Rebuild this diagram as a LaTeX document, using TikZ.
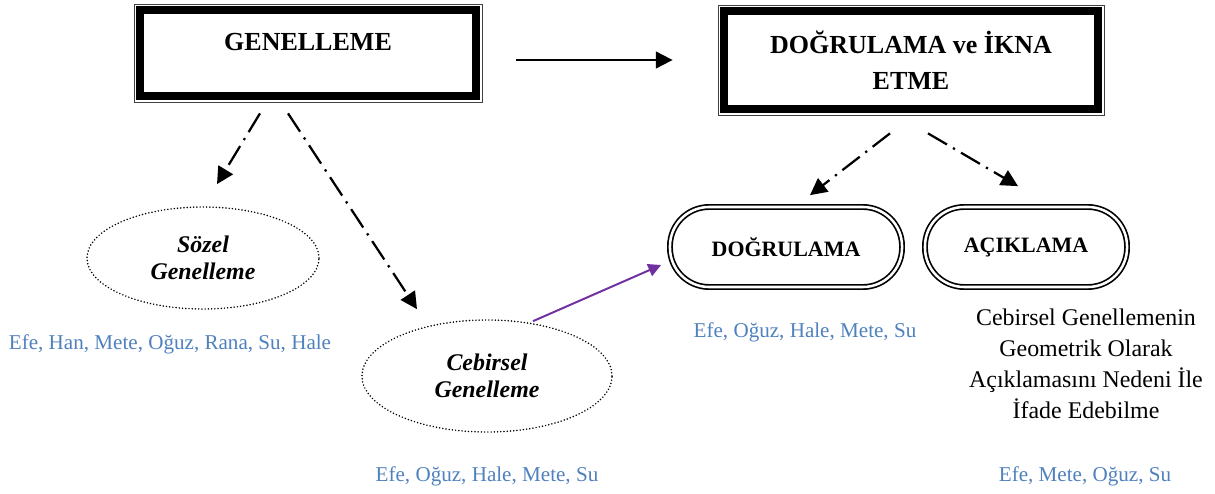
\documentclass[tikz,border=0pt]{standalone}
\usepackage{fontspec}
\setmainfont{Liberation Serif}
\usetikzlibrary{arrows.meta,shapes.geometric}
\definecolor{namesblue}{RGB}{79,129,189}
\definecolor{linkpurple}{RGB}{112,48,160}
\tikzset{
	framebox/.style={draw=black!75,line width=0.5pt,inner sep=0pt,align=center,
		font=\fontsize{18.5}{25.6}\selectfont\bfseries,
		path picture={\draw[draw=black,line width=0.2cm]
			([shift={(0.16cm,-0.16cm)}]path picture bounding box.north west) rectangle
			([shift={(-0.16cm,0.16cm)}]path picture bounding box.south east);}},
	pill/.style={draw,double,double distance=1.8pt,line width=1.2pt,rounded corners=0.98cm,
		inner sep=0pt,minimum height=2cm,font=\fontsize{15.6}{19}\selectfont\bfseries},
	oval/.style={ellipse,draw,line width=1.2pt,dash pattern=on 0pt off 2.3pt,line cap=round,
		inner sep=0pt,align=center,font=\fontsize{17}{19.2}\selectfont\bfseries\itshape},
	names/.style={text=namesblue,font=\fontsize{15}{18}\selectfont},
	plain arrow/.style={line width=1.4pt,-{Triangle[length=0.42cm,width=0.42cm]}},
	dashdot arrow/.style={line width=1.6pt,dash pattern=on 15.6pt off 5pt on 1.6pt off 5pt,
		-{Triangle[length=0.42cm,width=0.42cm]}},
	purple arrow/.style={draw=linkpurple,line width=1.4pt,
		-{Triangle[length=0.32cm,width=0.32cm]}}
}
\begin{document}
\begin{tikzpicture}[x=0.025cm,y=-0.025cm]
		\useasboundingbox (0,0) rectangle (1215,493);
		%Main boxes
			\node[framebox,minimum width=8.7cm,minimum height=2.45cm,text height=0.45cm,text depth=0.55cm] (gen) at (308,53) {GENELLEME};
			\node[framebox,minimum width=9.65cm,minimum height=2.75cm] (dik) at (911,60) {DOĞRULAMA ve İKNA\\ETME};
		%Generalisation kinds
			\node[oval,minimum width=5.8cm,minimum height=2.55cm] (soz) at (203,258) {Sözel\\Genelleme};
			\node[oval,minimum width=6.25cm,minimum height=2.8cm] (ceb) at (487,376) {Cebirsel\\Genelleme};
		%Verification and explanation
			\node[pill,minimum width=5.8cm] (dog) at (786,247) {DOĞRULAMA};
			\node[pill,minimum width=5.05cm] (acik) at (1026,247) {AÇIKLAMA};
			\node[align=center,font=\fontsize{17}{22}\selectfont] (acikdesc) at (1086,364)
				{Cebirsel Genellemenin\\Geometrik Olarak\\Açıklamasını Nedeni İle\\İfade Edebilme};
		%Students
			\node[names] (soznames) at (170,344) {Efe, Han, Mete, Oğuz, Rana, Su, Hale};
			\node[names] (cebnames) at (487,476) {Efe, Oğuz, Hale, Mete, Su};
			\node[names] (dognames) at (805,332) {Efe, Oğuz, Hale, Mete, Su};
			\node[names] (aciknames) at (1085,476) {Efe, Mete, Oğuz, Su};
		%Arrows
			\draw[plain arrow] ([shift={(34,7)}]gen.east) -- ([shift={(-45,0)}]dik.west);
			\draw[dashdot arrow] ([shift={(-48,11)}]gen.south) -- ([shift={(14,-22)}]soz.north);
			\draw[dashdot arrow] ([shift={(-20,11)}]gen.south) -- ([shift={(-70,-10)}]ceb.north);
			\draw[dashdot arrow] ([shift={(-21,18)}]dik.south) -- ([shift={(24,-11)}]dog.north);
			\draw[dashdot arrow] ([shift={(17,18)}]dik.south) -- ([shift={(-8,-20)}]acik.north);
			\draw[purple arrow] ([shift={(46,2)}]ceb.north) -- ([shift={(-8,18)}]dog.west);
	\end{tikzpicture}
\end{document}
